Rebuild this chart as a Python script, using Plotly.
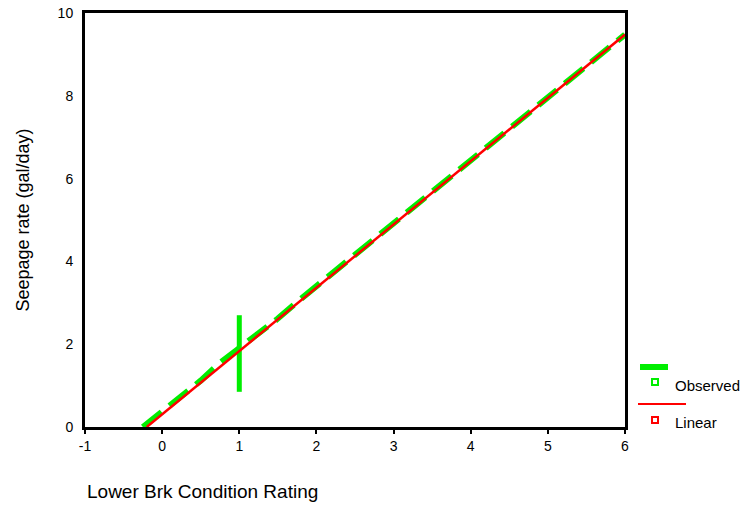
import plotly.graph_objects as go

obs_x = [-0.25, 0.25, 0.5, 0.75, 1.0, 1.25, 1.5, 1.75, 2.0, 2.25, 2.5, 2.75, 3.0,
         3.25, 3.5, 3.75, 4.0, 4.25, 4.5, 4.75, 5.0, 5.25, 5.5, 5.75, 6.0]
obs_y = [0.0, 0.75, 1.12, 1.55, 1.9, 2.25, 2.62, 3.02, 3.4, 3.8, 4.16, 4.52, 4.9,
         5.3, 5.66, 6.04, 6.42, 6.82, 7.2, 7.56, 7.94, 8.34, 8.7, 9.08, 9.48]
# spread of observations at rating 1
spread_x = [1.0, 1.0]
spread_y = [0.85, 2.7]

# Linear fit
linear_x = [-0.2, 6.0]
linear_y = [0.0, 9.48]

x_ticks = [-1, 0, 1, 2, 3, 4, 5, 6]
y_ticks = [0, 2, 4, 6, 8, 10]

GREEN = "#00ee00"
RED = "#ff0000"
FONT = "Liberation Sans, Arial, sans-serif"

fig = go.Figure()
fig.add_trace(go.Scatter(x=obs_x, y=obs_y, mode="lines", name="Observed",
                         line=dict(color=GREEN, width=6, dash="24px,10px"),
                         showlegend=False))
fig.add_trace(go.Scatter(x=spread_x, y=spread_y, mode="lines",
                         line=dict(color=GREEN, width=5), showlegend=False))
fig.add_trace(go.Scatter(x=linear_x, y=linear_y, mode="lines", name="Linear",
                         line=dict(color=RED, width=2.5), showlegend=False))

W, H = 747, 506
# plot area in window pixels: x 85..625, y 13..427
L, R, T, B = 85, 625, 13, 427


def px(x):
    return (x - L) / (R - L)


def py(y):
    return (B - y) / (B - T)


shapes = [
    dict(type="line", xref="paper", yref="paper", x0=px(640), x1=px(668), y0=py(367), y1=py(367),
         line=dict(color=GREEN, width=6)),
    dict(type="rect", xref="paper", yref="paper", x0=px(652), x1=px(658), y0=py(385), y1=py(379),
         line=dict(color=GREEN, width=2), fillcolor="white"),
    dict(type="line", xref="paper", yref="paper", x0=px(638), x1=px(686), y0=py(404), y1=py(404),
         line=dict(color=RED, width=2)),
    dict(type="rect", xref="paper", yref="paper", x0=px(652), x1=px(658), y0=py(423), y1=py(417),
         line=dict(color=RED, width=2), fillcolor="white"),
]

annotations = [
    dict(text="Observed", xref="paper", yref="paper", x=px(673), y=py(385), xanchor="left",
         yanchor="middle", showarrow=False, font=dict(family=FONT, size=15, color="black")),
    dict(text="Linear", xref="paper", yref="paper", x=px(673), y=py(422), xanchor="left",
         yanchor="middle", showarrow=False, font=dict(family=FONT, size=15, color="black")),
    dict(text="Lower Brk Condition Rating", xref="paper", yref="paper", x=px(85), y=py(491),
         xanchor="left", yanchor="middle", showarrow=False,
         font=dict(family=FONT, size=19, color="black")),
]

fig.update_layout(
    width=W, height=H,
    margin=dict(l=L, r=W - R, t=T, b=H - B, pad=0),
    plot_bgcolor="white", paper_bgcolor="white",
    font=dict(family=FONT, size=14, color="black"),
    shapes=shapes, annotations=annotations,
    showlegend=False,
)
fig.update_xaxes(range=[-1, 6], tickvals=x_ticks, ticktext=[str(v) for v in x_ticks],
                 showgrid=False, zeroline=False, showline=True, linecolor="black", linewidth=3,
                 mirror=True, ticks="outside", ticklen=4, tickwidth=2, tickcolor="black",
                 tickfont=dict(size=14), ticklabeloverflow="allow", automargin=False)
fig.update_yaxes(range=[0, 10], tickvals=y_ticks, ticktext=[str(v) for v in y_ticks],
                 showgrid=False, zeroline=False, showline=True, linecolor="black", linewidth=3,
                 mirror=True, ticks="", ticklabelstandoff=6, tickfont=dict(size=14),
                 ticklabeloverflow="allow", automargin=False,
                 title=dict(text="Seepage rate (gal/day)", font=dict(size=18), standoff=24))

fig.write_html("out.html", config={"displayModeBar": False},
               post_script="document.body.style.margin='0';document.body.style.overflow='hidden';")
